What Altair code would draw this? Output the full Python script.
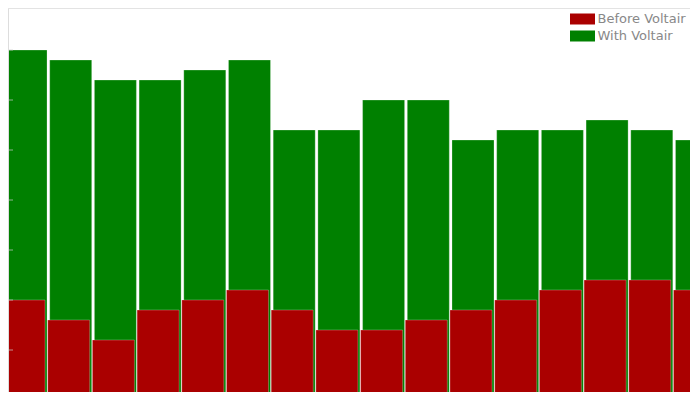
import altair as alt
import pandas as pd

runs = [str(i) for i in range(1, 17)]
before_voltair = [10, 8, 6, 9, 10, 11, 9, 7, 7, 8, 9, 10, 11, 12, 12, 11]
with_voltair = [35, 34, 32, 32, 33, 34, 27, 27, 30, 30, 26, 27, 27, 28, 27, 26]
tick_values = [5, 10, 15, 20, 25, 30, 35]
series_names = ["Before Voltair", "With Voltair"]
series_colors = ["#aa0000", "#008000"]

df_with = pd.DataFrame({"run": runs, "value": with_voltair, "series": "With Voltair"})
df_before = pd.DataFrame({"run": runs, "value": before_voltair, "series": "Before Voltair"})
df_ticks = pd.DataFrame({"t": tick_values})

W, H = 682, 384

xenc = alt.X("run:N", sort=runs,
             scale=alt.Scale(range=[-3, 709.5], paddingInner=0.06, paddingOuter=0),
             axis=None)
yscale = alt.Scale(domain=[0.8, 39.2], nice=False, zero=False)
yenc = alt.Y("value:Q", scale=yscale, axis=None)
y2enc = alt.Y2(datum=0)
color = alt.Color("series:N",
                  scale=alt.Scale(domain=series_names, range=series_colors),
                  legend=alt.Legend(
                      title=None, orient="none", legendX=568, legendY=4.5,
                      symbolType="M-2.5,-1.1H2.5V1.1H-2.5Z", symbolSize=100,
                      symbolStrokeWidth=0, symbolOpacity=1,
                      labelFont="DejaVu Sans", labelFontSize=13, labelColor="#888888",
                      labelOffset=8.5, rowPadding=3, padding=0))

green = alt.Chart(df_with).mark_bar(clip=True, stroke="#ffffff", strokeOpacity=0.25,
                                    strokeWidth=1, opacity=1).encode(
    x=xenc, y=yenc, y2=y2enc, color=color)
red = alt.Chart(df_before).mark_bar(clip=True, xOffset=-2, stroke="#ffffff", strokeOpacity=0.25,
                                    strokeWidth=1, opacity=1).encode(
    x=xenc, y=yenc, y2=y2enc, color=color)

ticks = alt.Chart(df_ticks).mark_rule(color="#cccccc", opacity=0.7, strokeWidth=1).encode(
    y=alt.Y("t:Q", scale=yscale),
    x=alt.value(0), x2=alt.value(5))

left_line = alt.Chart(df_ticks).mark_rule(color="#dddddd", strokeWidth=1).encode(
    x=alt.value(0.5), y=alt.value(0), y2=alt.value(H))
top_line = alt.Chart(df_ticks).mark_rule(color="#e3e3e3", strokeWidth=1).encode(
    y=alt.value(0.5), x=alt.value(0), x2=alt.value(W))

chart = alt.layer(green, red, ticks, left_line, top_line).properties(
    width=W, height=H,
    autosize=alt.AutoSizeParams(type="none"),
    padding=0,
    background="white",
).configure_view(stroke=None)

chart.save("out.html", embed_options={"renderer": "svg", "actions": False})
